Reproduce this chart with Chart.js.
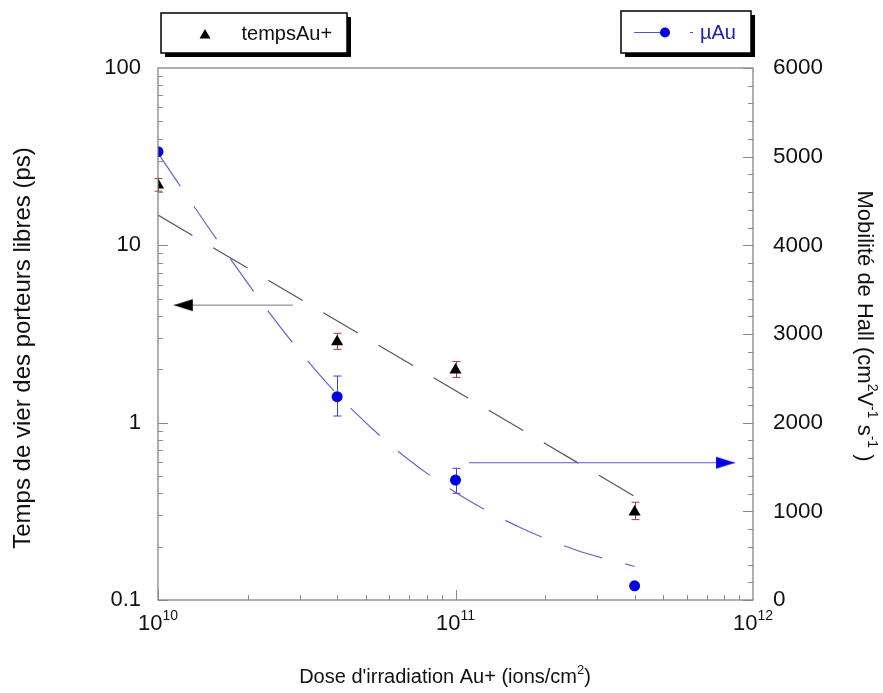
<!DOCTYPE html>
<html><head><meta charset="utf-8">
<script src="https://cdn.jsdelivr.net/npm/chart.js@4.4.1/dist/chart.umd.min.js"></script>
<style>html,body{margin:0;padding:0;background:#fff;overflow:hidden}canvas{display:block}</style>
</head><body>
<canvas id="c" width="883" height="693"></canvas>
<script>
// ---- data ----
const doses = [1e10, 4e10, 1e11, 4e11];
const tempsAu = [21.9, 2.86, 1.98, 0.313];
const tempsErrLow = [20.2, 2.59, 1.80, 0.284];
const tempsErrHigh = [23.8, 3.19, 2.21, 0.356];
const muAu = [5056, 2293, 1353, 160];
const muErrLow = [null, 2075, 1203, null];
const muErrHigh = [null, 2526, 1485, null];
const tempsFitDose = [1e10, 4.2e11];
const tempsFit = [14.8, 0.366];
const muFitDose = [1e10, 1.595e10, 2.57e10, 3.5e10, 4.53e10, 6.93e10, 1.077e11, 1.67e11, 2.54e11, 4e11];
const muFit = [5040, 4041, 3082, 2537, 2135, 1587, 1147, 809, 564, 378];
const arrowLeftDose = [1.13e10, 2.84e10];
const arrowLeftVal = [4.6, 4.6];
const arrowRightDose = [1.11e11, 8.7e11];
const arrowRightVal = [1548, 1548];
const leftTicks = [0.1, 1, 10, 100];
const leftTickLabels = ['0.1', '1', '10', '100'];
const rightTicks = [0, 1000, 2000, 3000, 4000, 5000, 6000];
const rightTickLabels = ['0', '1000', '2000', '3000', '4000', '5000', '6000'];
const xTicks = [1e10, 1e11, 1e12];
const xTickExp = ['10', '11', '12'];
const xTitle = [["Dose d'irradiation Au+ (ions/cm", 0], ["2", 1], [")", 0]];
const leftTitle = 'Temps de vier des porteurs libres (ps)';
const rightTitle = [["Mobilité de Hall (cm", 0], ["2", 1], ["V", 0], ["-1", 1], [" s", 0], ["-1", 1], [" )", 0]];
const legendA = 'tempsAu+';
const legendB = 'µAu';

const FONT = '"Liberation Sans", Arial, sans-serif';
const BLUE = '#0000e0';

function arrowHead(dir, color) {
  const c = document.createElement('canvas');
  c.width = 44; c.height = 14;
  const g = c.getContext('2d');
  g.fillStyle = color;
  g.beginPath();
  if (dir < 0) { g.moveTo(22, 7); g.lineTo(41, 1); g.lineTo(41, 13); }
  else { g.moveTo(22, 7); g.lineTo(3, 1); g.lineTo(3, 13); }
  g.closePath(); g.fill();
  return c;
}
const headL = arrowHead(-1, '#000');
const headR = arrowHead(1, BLUE);

const pts = (xs, ys) => xs.map((x, i) => ({x: x, y: ys[i]}));

function drawRich(ctx, segs, cx, cy, angle, size, supSize, supDy, color) {
  ctx.save();
  ctx.translate(cx, cy); ctx.rotate(angle);
  ctx.fillStyle = color; ctx.textBaseline = 'middle'; ctx.textAlign = 'left';
  let total = 0;
  segs.forEach(s => { ctx.font = (s[1] ? supSize : size) + 'px ' + FONT; total += ctx.measureText(s[0]).width; });
  let x = -total / 2;
  segs.forEach(s => {
    ctx.font = (s[1] ? supSize : size) + 'px ' + FONT;
    ctx.fillText(s[0], x, s[1] ? supDy : 0);
    x += ctx.measureText(s[0]).width;
  });
  ctx.restore();
}

const framePlugin = {
  id: 'frame',
  beforeDatasetsDraw(chart) {
    const ctx = chart.ctx, xs = chart.scales.x, y = chart.scales.y, y1 = chart.scales.y1;
    ctx.save();
    ctx.lineWidth = 1;
    ctx.strokeStyle = '#a04030';
    doses.forEach((d, i) => {
      const px = Math.round(xs.getPixelForValue(d)) + 0.5;
      const a = y.getPixelForValue(tempsErrHigh[i]), b = y.getPixelForValue(tempsErrLow[i]);
      ctx.beginPath(); ctx.moveTo(px, a); ctx.lineTo(px, b);
      ctx.moveTo(px - 4, a); ctx.lineTo(px + 4, a); ctx.moveTo(px - 4, b); ctx.lineTo(px + 4, b); ctx.stroke();
    });
    ctx.strokeStyle = '#4040d0';
    doses.forEach((d, i) => {
      if (muErrLow[i] == null) return;
      const px = Math.round(xs.getPixelForValue(d)) + 0.5;
      const a = y1.getPixelForValue(muErrHigh[i]), b = y1.getPixelForValue(muErrLow[i]);
      ctx.beginPath(); ctx.moveTo(px, a); ctx.lineTo(px, b);
      ctx.moveTo(px - 4, a); ctx.lineTo(px + 4, a); ctx.moveTo(px - 4, b); ctx.lineTo(px + 4, b); ctx.stroke();
    });
    ctx.restore();
  },
  afterDraw(chart) {
    const ctx = chart.ctx, a = chart.chartArea;
    const xs = chart.scales.x, y = chart.scales.y, y1 = chart.scales.y1;
    ctx.save();
    ctx.strokeStyle = '#7a7a7a'; ctx.lineWidth = 1.2;
    ctx.strokeRect(a.left, a.top, a.right - a.left, a.bottom - a.top);
    ctx.strokeStyle = '#8a8a8a'; ctx.lineWidth = 1;
    ctx.beginPath();
    for (let e = -1; e < 2; e++) {
      for (let m = 1; m <= 9; m++) {
        const v = m * Math.pow(10, e);
        const py = Math.round(y.getPixelForValue(v)) + 0.5;
        const len = m === 1 ? 10 : 5;
        ctx.moveTo(a.left, py); ctx.lineTo(a.left + len, py);
      }
    }
    for (let e = 10; e < 12; e++) {
      for (let m = 1; m <= 9; m++) {
        const v = m * Math.pow(10, e);
        const px = Math.round(xs.getPixelForValue(v)) + 0.5;
        const len = m === 1 ? 10 : 5;
        ctx.moveTo(px, a.bottom); ctx.lineTo(px, a.bottom - len);
      }
    }
    for (let v = 0; v <= 6000; v += 200) {
      const py = Math.round(y1.getPixelForValue(v)) + 0.5;
      const len = v % 1000 === 0 ? 10 : 5;
      ctx.moveTo(a.right, py); ctx.lineTo(a.right - len, py);
    }
    ctx.stroke();
    ctx.fillStyle = '#111';
    ctx.font = '22px ' + FONT; ctx.textBaseline = 'middle';
    ctx.textAlign = 'right';
    leftTicks.forEach((v, i) => ctx.fillText(leftTickLabels[i], 141, y.getPixelForValue(v)));
    ctx.textAlign = 'left';
    ctx.font = '22.5px ' + FONT;
    rightTicks.forEach((v, i) => ctx.fillText(rightTickLabels[i], 773, y1.getPixelForValue(v)));
    xTicks.forEach((v, i) => {
      drawRich(ctx, [['10', 0], [xTickExp[i], 1]], xs.getPixelForValue(v), 624, 0, 22, 14, -8, '#111');
    });
    drawRich(ctx, xTitle, 445, 677, 0, 20, 13, -7, '#111');
    drawRich(ctx, [[leftTitle, 0]], 23, 348, -Math.PI / 2, 24, 15, -7, '#111');
    drawRich(ctx, rightTitle, 864, 326, Math.PI / 2, 22, 14, -8, '#111');
    // legend A
    ctx.fillStyle = '#000';
    ctx.fillRect(165, 17, 186, 40);
    ctx.fillStyle = '#fff'; ctx.fillRect(161, 13, 186, 40);
    ctx.strokeStyle = '#000'; ctx.lineWidth = 1.5; ctx.strokeRect(161, 13, 186, 40);
    ctx.fillStyle = '#000';
    ctx.beginPath(); ctx.moveTo(205, 29); ctx.lineTo(210.5, 38.5); ctx.lineTo(199.5, 38.5); ctx.closePath(); ctx.fill();
    ctx.font = '20px ' + FONT; ctx.textAlign = 'left'; ctx.fillStyle = '#111';
    ctx.fillText(legendA, 241.5, 34);
    // legend B
    ctx.fillStyle = '#000';
    ctx.fillRect(625, 15, 130, 42);
    ctx.fillStyle = '#fff'; ctx.fillRect(621, 11, 130, 42);
    ctx.strokeStyle = '#000'; ctx.lineWidth = 1.5; ctx.strokeRect(621, 11, 130, 42);
    ctx.strokeStyle = '#5050d8'; ctx.lineWidth = 1;
    ctx.beginPath(); ctx.moveTo(634, 32.5); ctx.lineTo(662, 32.5); ctx.moveTo(690, 32.5); ctx.lineTo(693, 32.5); ctx.stroke();
    ctx.fillStyle = BLUE; ctx.beginPath(); ctx.arc(665, 32.5, 5, 0, Math.PI * 2); ctx.fill();
    ctx.fillStyle = '#2020b8'; ctx.font = '20px ' + FONT;
    ctx.fillText(legendB, 700, 33);
    ctx.restore();
  }
};

new Chart(document.getElementById('c'), {
  type: 'line',
  data: {
    datasets: [
      { label: 'fitTemps', data: pts(tempsFitDose, tempsFit), yAxisID: 'y', borderColor: '#555', borderWidth: 1.2, borderDash: [40, 24], pointRadius: 0, tension: 0, fill: false, order: 10 },
      { label: 'fitMu', data: pts(muFitDose, muFit), yAxisID: 'y1', borderColor: '#6262d4', borderWidth: 1.2, borderDash: [40, 24], pointRadius: 0, tension: 0.3, cubicInterpolationMode: 'monotone', fill: false, order: 9 },
      { label: 'arrowL', data: pts(arrowLeftDose, arrowLeftVal), yAxisID: 'y', borderColor: '#777', borderWidth: 1, pointStyle: [headL, false], pointRadius: [3, 0], fill: false, order: 8 },
      { label: 'arrowR', data: pts(arrowRightDose, arrowRightVal), yAxisID: 'y1', borderColor: '#5a5ad8', borderWidth: 1, pointStyle: [false, headR], pointRadius: [0, 3], fill: false, order: 7 },
      { label: 'tempsAu+', data: pts(doses, tempsAu), yAxisID: 'y', showLine: false, pointStyle: 'triangle', pointRadius: 7, pointBackgroundColor: '#000', pointBorderColor: '#000', pointBorderWidth: 0, order: 2 },
      { label: 'µAu', data: pts(doses, muAu), yAxisID: 'y1', showLine: false, pointStyle: 'circle', pointRadius: 5.5, pointBackgroundColor: BLUE, pointBorderColor: BLUE, pointBorderWidth: 0, order: 1 }
    ]
  },
  options: {
    responsive: false, animation: false, devicePixelRatio: 1,
    layout: { padding: { top: 68, left: 0, right: 0, bottom: 0 } },
    plugins: { legend: { display: false }, tooltip: { enabled: false } },
    scales: {
      x: { type: 'logarithmic', position: 'bottom', min: 1e10, max: 1e12, grid: { display: false }, border: { display: false }, ticks: { display: false }, afterFit(s) { s.height = 93; } },
      y: { type: 'logarithmic', position: 'left', min: 0.1, max: 100, grid: { display: false }, border: { display: false }, ticks: { display: false }, afterFit(s) { s.width = 158; } },
      y1: { type: 'linear', position: 'right', min: 0, max: 6000, grid: { display: false }, border: { display: false }, ticks: { display: false }, afterFit(s) { s.width = 130; } }
    }
  },
  plugins: [framePlugin]
});
</script>
</body></html>
